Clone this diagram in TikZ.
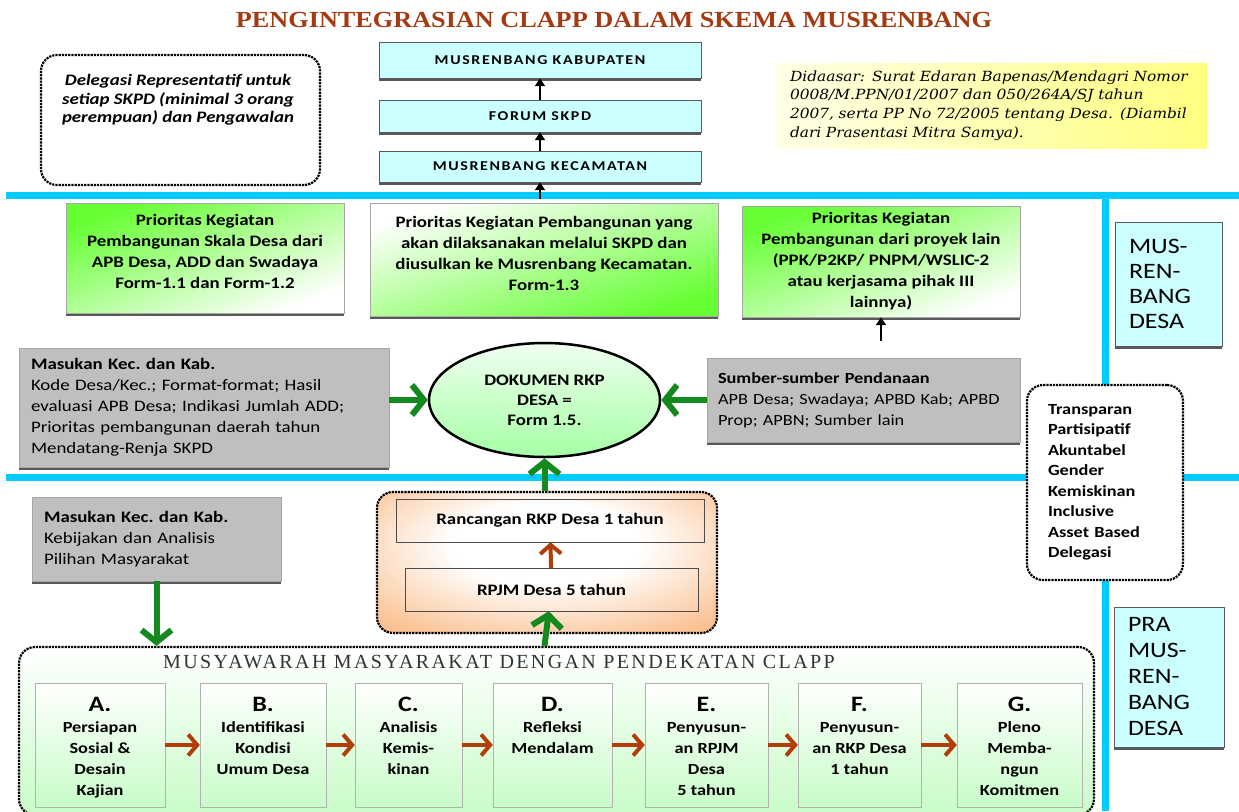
\documentclass[tikz,border=0pt]{standalone}
\usepackage{fontspec}
\setmainfont[FakeStretch=1.18]{Carlito}
\newfontfamily\headfont[FakeStretch=1.14]{Liberation Serif}
\newfontfamily\notefont[FakeStretch=1.1]{DejaVu Serif}
\newfontfamily\spacedfont[LetterSpace=12]{Liberation Serif}
\usetikzlibrary{arrows.meta, shadows, shapes.geometric}
\definecolor{barcyan}{HTML}{00CCFF}
\definecolor{palecyan}{HTML}{CCFFFF}
\definecolor{leafgreen}{HTML}{66FF33}
\definecolor{arrowgreen}{HTML}{148A1E}
\definecolor{rust}{HTML}{B23C0A}
\definecolor{titlered}{HTML}{A33A12}
\definecolor{noteyellow}{HTML}{FFFF80}
\definecolor{peach}{HTML}{F8A560}
\definecolor{mint}{HTML}{C8FCC8}
\pgfdeclareradialshading{peachglow}{\pgfpoint{0bp}{8bp}}{color(0bp)=(white); color(14bp)=(white); color(34bp)=(peach!65); color(50bp)=(peach); color(80bp)=(peach)}
\tikzset{
  shadowed/.style={drop shadow={shadow xshift=0pt, shadow yshift=-3pt, fill=black!65, opacity=1}},
  levelbox/.style={draw=gray!70!black, fill=palecyan, shadowed, minimum width=322, minimum height=32, font=\fontsize{13.5}{16}\selectfont\bfseries\addfontfeature{LetterSpace=12}},
  prioritybox/.style={draw=gray!70, shadowed, align=center, font=\fontsize{16}{21}\selectfont\bfseries},
  inputbox/.style={draw=gray!70, shadowed, top color=gray!50, middle color=white, bottom color=gray!50, align=left, inner xsep=12, font=\fontsize{16}{21}\selectfont},
  stagebox/.style={draw=gray!70!black, fill=palecyan, shadowed, align=left, inner xsep=14, font=\fontsize{22}{25}\selectfont},
  dotbox/.style={draw, densely dotted, line width=2.2pt, rounded corners=16pt},
  stepbox/.style={draw=gray!60, top color=white, bottom color=mint, minimum height=124},
  steptext/.style={align=center, font=\fontsize{15.5}{21}\selectfont\bfseries},
  bar/.style={draw=barcyan, line width=7pt},
  fatarrow/.style={draw=arrowgreen, line width=6pt, -{Straight Barb[length=12pt, width=30pt]}},
  rustarrow/.style={draw=rust, line width=4pt, -{Straight Barb[length=9pt, width=21pt]}},
  thinarrow/.style={draw=black, line width=2pt, -{Triangle[length=8pt, width=10pt]}}
}
\begin{document}
\begin{tikzpicture}[x=1pt, y=-1pt]
\useasboundingbox (0,0) rectangle (1239,811);
\node (title) at (614,20) [text=titlered, font=\headfont\bfseries\fontsize{23}{26}\selectfont] {PENGINTEGRASIAN CLAPP DALAM SKEMA MUSRENBANG};
\draw [bar] (6,195) -- (1239,195);
\draw [bar] (6,477) -- (1239,477);
\draw [bar] (1105,195) -- (1105,811);

\node (deleg) at (180.5,120) [dotbox, minimum width=279, minimum height=130] {};
\node (delegtext) at (178,100) [align=center, font=\fontsize{16}{18.3}\selectfont\bfseries\itshape] {Delegasi Representatif untuk\\setiap SKPD (minimal 3 orang\\perempuan) dan Pengawalan};

\foreach \name/\y/\h/\label in {kab/60/36/MUSRENBANG KABUPATEN, forum/116/32/FORUM SKPD, kec/166.5/31/MUSRENBANG KECAMATAN}
  \node (\name) at (540,\y) [levelbox, minimum height=\h] {\label};
\coordinate (barup) at (540,199);
\draw [thinarrow] (forum) -- (kab);
\draw [thinarrow] (kec) -- (forum);
\draw [thinarrow] (barup) -- (kec);

\node (dasar) at (991.5,105.5) [minimum width=431, minimum height=85, text width=403, inner xsep=14, left color=noteyellow!20, right color=noteyellow, align=left, font=\notefont\itshape\fontsize{14}{18.7}\selectfont] {Didaasar: Surat Edaran Bapenas/Mendagri Nomor\\0008/M.PPN/01/2007 dan 050/264A/SJ tahun\\2007, serta PP No 72/2005 tentang Desa. (Diambil\\dari Prasentasi Mitra Samya).};

\node (prior1) at (205,258) [prioritybox, minimum width=278, minimum height=110, text depth=13pt, top color=leafgreen, bottom color=white, shading angle=22] {Prioritas Kegiatan\\Pembangunan Skala Desa dari\\APB Desa, ADD dan Swadaya\\Form-1.1 dan Form-1.2};
\node (prior2) at (544,259.5) [prioritybox, minimum width=348, minimum height=113, text depth=13pt, top color=white, bottom color=leafgreen, shading angle=18] {Prioritas Kegiatan Pembangunan yang\\akan dilaksanakan melalui SKPD dan\\diusulkan ke Musrenbang Kecamatan.\\Form-1.3};
\node (prior3) at (881,261.5) [prioritybox, minimum width=278, minimum height=111, top color=leafgreen, bottom color=white, shading angle=22] {Prioritas Kegiatan\\Pembangunan dari proyek lain\\(PPK/P2KP/ PNPM/WSLIC-2\\atau kerjasama pihak III\\lainnya)};
\node (musdesa) at (1168.5,284) [stagebox, minimum width=107, minimum height=124, text width=79] {MUS-\\REN-\\BANG\\DESA};

\node (masukan1) at (204,407.5) [inputbox, minimum height=119, text width=346] {\textbf{Masukan Kec.\ dan Kab.}\\Kode Desa/Kec.; Format-format; Hasil\\evaluasi APB Desa; Indikasi Jumlah ADD;\\Prioritas pembangunan daerah tahun\\Mendatang-Renja SKPD};
\node (rkp) at (544.5,400) [ellipse, draw, line width=2.5pt, minimum width=231, minimum height=114, top color=green!6, bottom color=green!35, align=center, font=\fontsize{16}{20}\selectfont\bfseries] {DOKUMEN RKP\\DESA =\\Form 1.5.};
\node (sumber) at (863.5,400) [inputbox, minimum height=84, text width=291, inner xsep=11, font=\fontsize{15.5}{21}\selectfont] {\textbf{Sumber-sumber Pendanaan}\\APB Desa; Swadaya; APBD Kab; APBD\\Prop; APBN; Sumber lain};
\coordinate (fundtop) at (881,341);
\draw [thinarrow] (fundtop) -- (prior3);
\draw [fatarrow] (masukan1.east |- rkp) -- (rkp);
\draw [fatarrow] (sumber.west |- rkp) -- (rkp);

\node (nilai) at (1105,482.5) [dotbox, fill=white, minimum height=195, text width=114, inner xsep=21, align=left, font=\fontsize{15.5}{20.5}\selectfont\bfseries] {Transparan\\Partisipatif\\Akuntabel\\Gender\\Kemiskinan\\Inclusive\\Asset Based\\Delegasi};
\node (pramus) at (1169,677) [stagebox, minimum width=110, minimum height=140, text width=82, font=\fontsize{22}{26}\selectfont] {PRA\\MUS-\\REN-\\BANG\\DESA};

\node (masukan2) at (156.5,539) [inputbox, minimum height=84, text width=225] {\textbf{Masukan Kec.\ dan Kab.}\\Kebijakan dan Analisis\\Pilihan Masyarakat};

\node (rancang) at (547,562.5) [dotbox, minimum width=340, minimum height=141, shading=peachglow] {};
\node (rkpdesa) at (550,520.5) [draw=gray!60!black, minimum width=308, minimum height=43, font=\fontsize{16}{18}\selectfont\bfseries] {Rancangan RKP Desa 1 tahun};
\node (rpjm) at (551.5,589.5) [draw=gray!60!black, minimum width=293, minimum height=43, font=\fontsize{16}{18}\selectfont\bfseries] {RPJM Desa 5 tahun};
\draw [rustarrow] (rpjm) -- (rkpdesa);
\draw [fatarrow] (rancang.north -| rkp) -- (rkp);

\node (clapp) at (556.5,731) [dotbox, minimum width=1075, minimum height=168, top color=white, bottom color=mint] {};
\node (clapptitle) at (499,662) [text=black!80, font=\spacedfont\fontsize{20}{22}\selectfont] {MUSYAWARAH MASYARAKAT DENGAN PENDEKATAN CLAPP};
\draw [fatarrow] (clapp.north -| rkp) -- (rpjm);
\draw [fatarrow] (masukan2) -- (masukan2 |- clapp.north);

\foreach \n/\x/\w/\txt in {A/100/130/{Persiapan\\Sosial \&\\Desain\\Kajian}, B/263/126/{Identifikasi\\Kondisi\\Umum Desa}, C/408.5/107/{Analisis\\Kemis-\\kinan}, D/552.5/119/{Refleksi\\Mendalam}, E/706.5/123/{Penyusun-\\an RPJM\\Desa\\5 tahun}, F/859.5/123/{Penyusun-\\an RKP Desa\\1 tahun}, G/1019.5/125/{Pleno\\Memba-\\ngun\\Komitmen}}
  {\node (step\n) at (\x,745) [stepbox, minimum width=\w] {};
   \node (label\n) at (step\n.north) [steptext, anchor=north, yshift=-11] {{\fontsize{22}{24}\selectfont\n.}\\\txt};}
\foreach \a/\b in {A/B, B/C, C/D, D/E, E/F, F/G}
  \draw [rustarrow] (step\a) -- (step\b);
\end{tikzpicture}
\end{document}
